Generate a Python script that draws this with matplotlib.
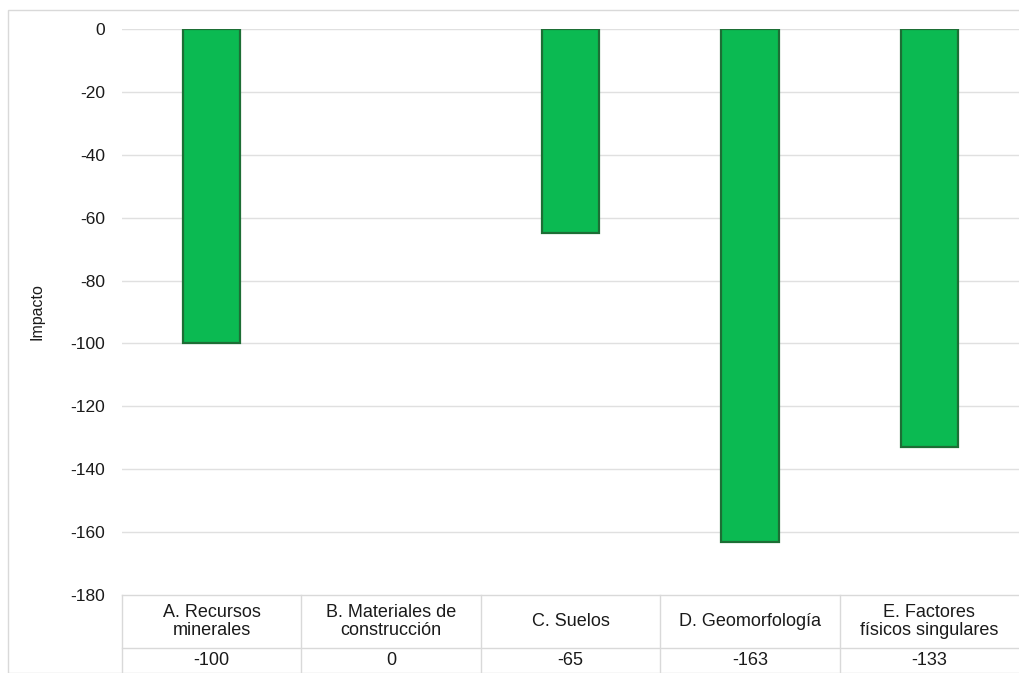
import matplotlib.pyplot as plt
from matplotlib.patches import Rectangle
from matplotlib.lines import Line2D

categories = ['A. Recursos\nminerales', 'B. Materiales de\nconstrucción', 'C. Suelos',
              'D. Geomorfología', 'E. Factores\nfísicos singulares']
values = [-100, 0, -65, -163, -133]
yticks = [0, -20, -40, -60, -80, -100, -120, -140, -160, -180]

plt.rcParams['font.family'] = ['Liberation Sans', 'DejaVu Sans']

W, H = 1019, 673
fig = plt.figure(figsize=(W / 100, H / 100), dpi=100)
fig.patches.append(Rectangle((8 / W, 0), 1.1, (H - 10) / H, transform=fig.transFigure,
                             fill=False, edgecolor='#d9d9d9', linewidth=1))

ax = fig.add_axes([122 / W, (H - 595) / H, (1019 - 122) / W, 566 / H])
x = list(range(len(categories)))
lw = [0 if v == 0 else 1.6 for v in values]
ax.bar(x, values, width=0.32, color='#0bba52', edgecolor='#1d6e35', linewidth=lw, zorder=3)

ax.set_xlim(-0.5, len(categories) - 0.5)
ax.set_ylim(-180, 0)
ax.set_yticks(yticks)
ax.set_yticklabels([str(v) for v in yticks], fontsize=12.5, color='#1a1a1a')
ax.tick_params(axis='y', length=0, pad=12)
ax.tick_params(axis='x', length=0, labelbottom=False)
for v in yticks[:-1]:
    ax.axhline(v, color='#e0e0e0', linewidth=1, zorder=1)
for s in ax.spines.values():
    s.set_visible(False)
ax.set_ylabel('Impacto', fontsize=11.5, color='#1a1a1a', labelpad=19)

# data table under the axis
tr = ax.get_xaxis_transform()
row1 = -53 / 566
row2 = -75 / 566
for yy in (0, row1):
    ax.add_line(Line2D([-0.5, len(categories) - 0.5], [yy, yy], transform=tr,
                       color='#d9d9d9', linewidth=1, clip_on=False))
for b in range(len(categories)):
    ax.add_line(Line2D([b - 0.5, b - 0.5], [0, row2 - 0.02], transform=tr,
                       color='#d9d9d9', linewidth=1, clip_on=False))
for i, (c, v) in enumerate(zip(categories, values)):
    ax.text(i, row1 / 2, c, transform=tr, ha='center', va='center', fontsize=13,
            color='#1a1a1a', linespacing=1.05)
    ax.text(i, (row1 + row2) / 2 - 0.003, str(v), transform=tr, ha='center', va='center',
            fontsize=13, color='#1a1a1a')

fig.savefig('out.png', dpi=100)
